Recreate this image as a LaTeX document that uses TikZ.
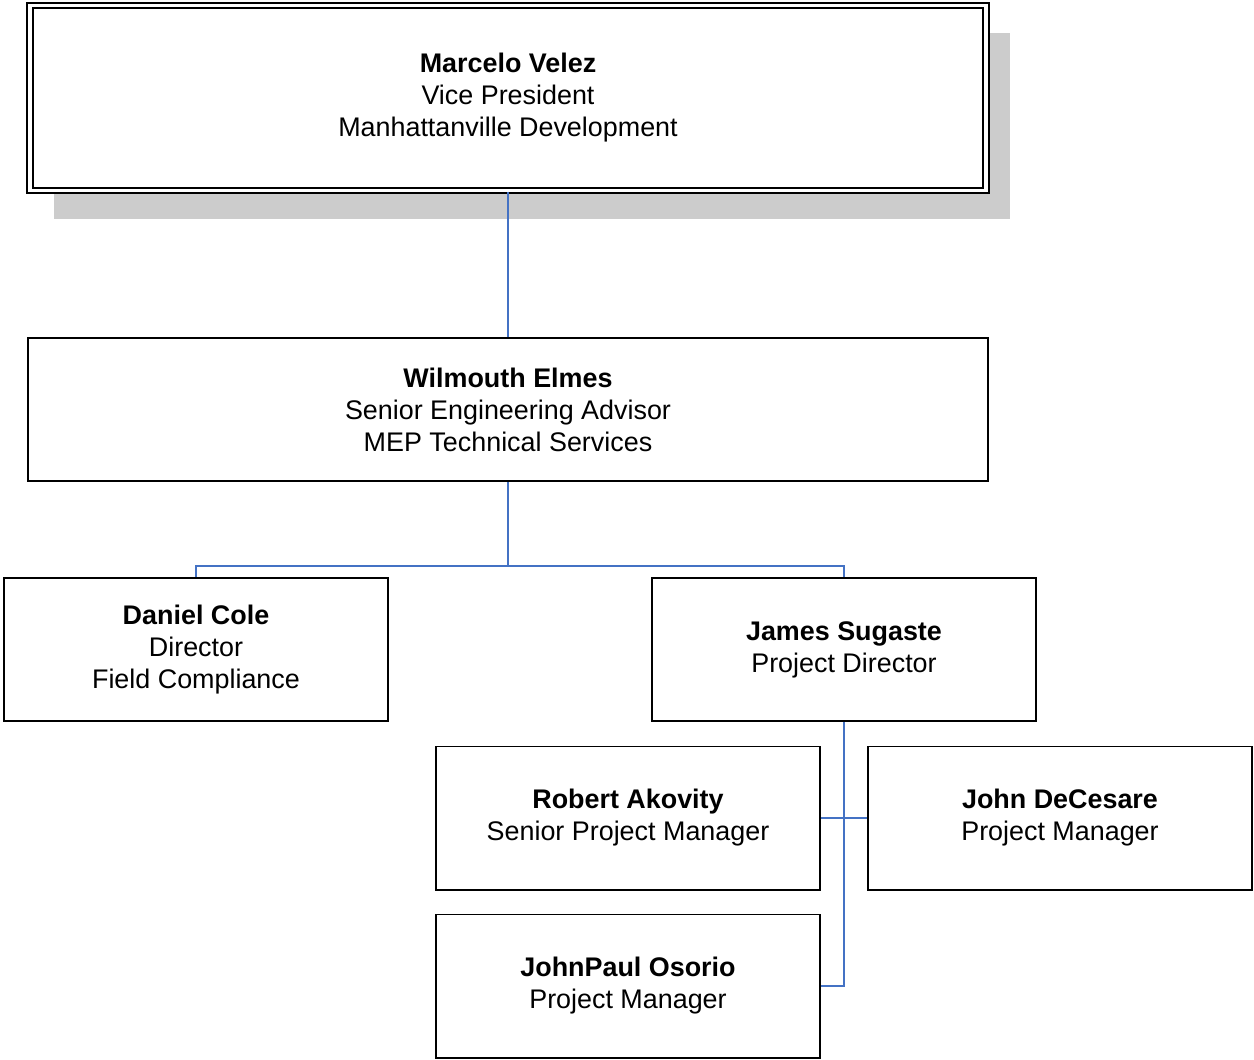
\documentclass[tikz,border=0pt]{standalone}
\usepackage{fontspec}
\setmainfont{Liberation Sans}
\usepackage{xcolor}
\usepackage{tikz}
\usetikzlibrary{shadows}
\definecolor{linkblue}{HTML}{4472C4}
\tikzset{
	person/.style={draw=black, line width=0.55pt, fill=white, align=center, inner sep=0pt,
		minimum width=3.84cm, minimum height=1.43cm, font=\fontsize{7.65}{9.1}\selectfont},
	link/.style={draw=linkblue, line width=0.5pt}
}
\newcommand*{\who}[1]{\textbf{#1}}

\begin{document}
\begin{tikzpicture}[x=0.01cm, y=-0.01cm]
		\useasboundingbox (0,0) rectangle (1254,1059);
		\node[person, minimum width=9.55cm, minimum height=1.85cm, double, line width=0.6pt, double distance=1pt,
			drop shadow={shadow xshift=0.24cm, shadow yshift=-0.28cm, fill=black!20, opacity=1}]
			(velez) at (508,98) {\who{Marcelo Velez}\\Vice President\\Manhattanville Development};
		\node[person, minimum width=9.6cm] (elmes) at (508,409.5) {\who{Wilmouth Elmes}\\Senior Engineering Advisor\\MEP Technical Services};
		\node[person] (cole) at (196,649.5) {\who{Daniel Cole}\\Director\\Field Compliance};
		\node[person] (sugaste) at (844,649.5) {\who{James Sugaste}\\Project Director};
		\node[person] (akovity) at (628,818) {\who{Robert Akovity}\\Senior Project Manager};
		\node[person] (decesare) at (1060,818) {\who{John DeCesare}\\Project Manager};
		\node[person] (osorio) at (628,986) {\who{JohnPaul Osorio}\\Project Manager};
		\coordinate (split) at (508,566);
		\draw[link]
		(velez) -- (elmes)
		(elmes) -- (split) (split) -| (cole) (split) -| (sugaste)
		(sugaste) |- (osorio)
		(akovity) -- (decesare)
		;
	\end{tikzpicture}
\end{document}
